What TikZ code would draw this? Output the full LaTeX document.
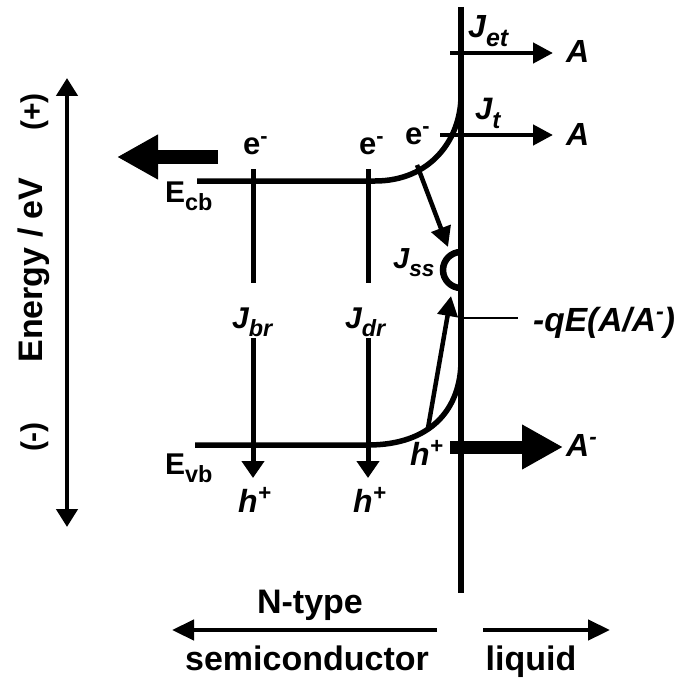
\documentclass[tikz,border=0pt]{standalone}
\usepackage{fontspec}
\setmainfont{Liberation Sans}
\usetikzlibrary{arrows.meta}
\newcommand\dn[1]{\raisebox{-0.28em}{\scalebox{0.78}{#1}}}
\newcommand\up[1]{\raisebox{0.35em}{\scalebox{0.7}{#1}}}
\begin{document}
\begin{tikzpicture}[x=1pt,y=-1pt,
  band/.style={line width=5.5pt},
  flow/.style={line width=4.5pt,-{Triangle[length=20pt,width=20pt]}},
  drop/.style={line width=5pt,-{Triangle[length=17pt,width=22pt]}},
  fat/.style={line width=14pt,-{Triangle[length=41pt,width=42pt]}},
  lab/.style={inner sep=0pt,anchor=base west,font=\fontsize{#1}{#1}\selectfont\bfseries},
  ilab/.style={inner sep=0pt,anchor=base west,font=\fontsize{#1}{#1}\selectfont\bfseries\itshape},
  big/.style={inner sep=0pt,anchor=base,font=\fontsize{34}{36}\selectfont\bfseries},
]
\useasboundingbox (0,0) rectangle (681,682);

% interface
\coordinate (ifT) at (461,7);
\coordinate (ifB) at (461,593);
\draw[band] (ifT) -- (ifB);

% energy axis
\coordinate (enT) at (67,78);
\coordinate (enB) at (67,527);
\draw[line width=4.5pt,{Triangle[length=18pt,width=21pt]}-{Triangle[length=18pt,width=21pt]}] (enB) -- (enT);
\node[big,rotate=90] (energy) at (42,270) {Energy / eV};
\node[big,rotate=90,font=\fontsize{30}{32}\selectfont\bfseries] (plus) at (42,112) {(+)};
\node[big,rotate=90,font=\fontsize{30}{32}\selectfont\bfseries] (minus) at (42,437) {(-)};

% conduction band
\coordinate (cbL) at (197,181);
\coordinate (cbK) at (375,181);
\coordinate (cbR) at (461,95);
\draw[band] (cbL) -- (cbK) .. controls (430,181) and (461,140) .. (cbR);
\node[lab=30] (ecb) at (165,202) {E\dn{cb}};

% valence band
\coordinate (vbL) at (195,445);
\coordinate (vbK) at (368,445);
\coordinate (vbR) at (461,360);
\draw[band] (vbL) -- (vbK) .. controls (430,445) and (461,410) .. (vbR);
\node[lab=30] (evb) at (165,474) {E\dn{vb}};

% electrons
\node[lab=31] (e1) at (243,154) {e\up{-}};
\node[lab=31] (e2) at (359,154) {e\up{-}};
\node[lab=31] (e3) at (405,144) {e\up{-}};

% J_br
\coordinate (brT) at (253,169);
\coordinate (brM) at (253,283);
\coordinate (brN) at (253,338);
\coordinate (brB) at (253,478);
\draw[line width=5pt] (brT) -- (brM);
\draw[drop] (brN) -- (brB);
\node[ilab=30] (jbr) at (232,328) {J\dn{br}};
\node[ilab=32] (h1) at (238,512) {h\up{+}};

% J_dr
\coordinate (drT) at (368,169);
\coordinate (drM) at (368,283);
\coordinate (drN) at (368,338);
\coordinate (drB) at (368,478);
\draw[line width=5pt] (drT) -- (drM);
\draw[drop] (drN) -- (drB);
\node[ilab=30] (jdr) at (345,328) {J\dn{dr}};
\node[ilab=32] (h2) at (353,512) {h\up{+}};

% surface states
\coordinate (ssT) at (461,252);
\draw[line width=6.5pt] (ssT) arc[start angle=-90,end angle=-270,radius=18];
\node[ilab=29] (jss) at (393,268) {J\dn{ss}};
\coordinate (eS) at (417,165);
\coordinate (eE) at (448,247);
\draw[flow] (eS) -- (eE);
\coordinate (hS) at (428,428);
\coordinate (hE) at (451,296);
\draw[flow] (hS) -- (hE);
\node[ilab=32] (h3) at (410,465) {h\up{+}};

% redox level
\coordinate (qL) at (461,318);
\coordinate (qR) at (518,318);
\draw[line width=2.5pt] (qL) -- (qR);
\node[ilab=33.5] (qe) at (533,331) {-qE(A/A\up{-})};

% transfer currents
\coordinate (etS) at (450,53);
\coordinate (etE) at (553,53);
\draw[flow] (etS) -- (etE);
\node[ilab=32] (jet) at (468,38) {J\dn{et}};
\node[ilab=32] (a1) at (566,63) {A};
\coordinate (tS) at (440,135);
\coordinate (tE) at (553,135);
\draw[flow] (tS) -- (tE);
\node[ilab=31] (jt) at (475,120) {J\dn{t}};
\node[ilab=32] (a2) at (566,145) {A};

% big arrows
\coordinate (blS) at (218,157);
\coordinate (blE) at (117,157);
\draw[fat] (blS) -- (blE);
\coordinate (brS) at (450,447);
\coordinate (brE) at (563,447);
\draw[fat,line width=13pt] (brS) -- (brE);
\node[ilab=32] (am) at (566,456) {A\up{-}};

% bottom
\coordinate (scS) at (437,630);
\coordinate (scE) at (172,630);
\draw[line width=4.5pt,-{Triangle[length=22pt,width=20pt]}] (scS) -- (scE);
\coordinate (lqS) at (483,630);
\coordinate (lqE) at (610,630);
\draw[line width=4.5pt,-{Triangle[length=22pt,width=20pt]}] (lqS) -- (lqE);
\node[big] (ntype) at (310,613) {N-type};
\node[big] (semi) at (307,670) {semiconductor};
\node[big] (liq) at (531,670) {liquid};
\end{tikzpicture}
\end{document}
